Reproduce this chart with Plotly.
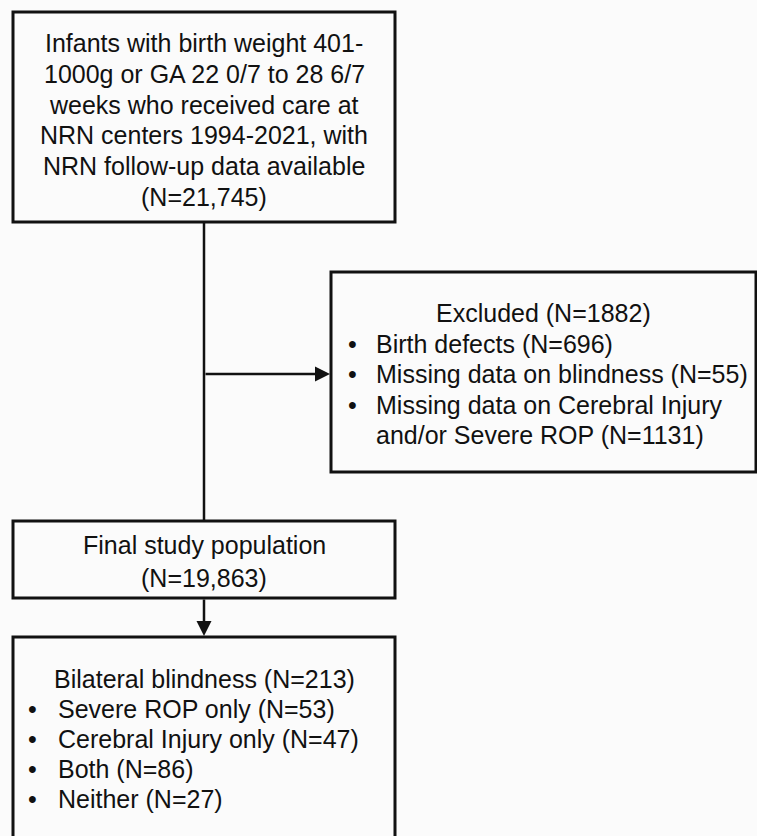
import plotly.graph_objects as go

W, H = 757, 836
FONT = "Liberation Sans, Arial, sans-serif"
COLOR = "#111111"
FS = 25

# Box texts
box1_lines = ["Infants with birth weight 401-", "1000g or GA 22 0/7 to 28 6/7",
              "weeks who received care at", "NRN centers 1994-2021, with",
              "NRN follow-up data available", "(N=21,745)"]
box2_title = "Excluded (N=1882)"
box2_bullets = ["Birth defects (N=696)", "Missing data on blindness (N=55)",
                "Missing data on Cerebral Injury", "and/or Severe ROP (N=1131)"]
box2_bullet_marks = [True, True, True, False]
box3_lines = ["Final study population", "(N=19,863)"]
box4_title = "Bilateral blindness (N=213)"
box4_bullets = ["Severe ROP only (N=53)", "Cerebral Injury only (N=47)",
                "Both (N=86)", "Neither (N=27)"]

# geometry (pixels, y downward)
b1 = dict(x0=13, y0=12, x1=395, y1=222)
b2 = dict(x0=331, y0=272, x1=756, y1=472)
b3 = dict(x0=13, y0=521, x1=395, y1=598)
b4 = dict(x0=13, y0=637, x1=395, y1=850)
cx = 204

fig = go.Figure()
fig.add_trace(go.Scatter(x=[0, W], y=[0, H], mode="markers",
                         marker=dict(opacity=0), hoverinfo="skip", showlegend=False))

for b in (b1, b2, b3, b4):
    fig.add_shape(type="rect", xref="x", yref="y", **b,
                  line=dict(color=COLOR, width=3), fillcolor="rgba(0,0,0,0)")

# connector line
fig.add_shape(type="line", xref="x", yref="y", x0=cx, y0=b1["y1"], x1=cx, y1=b3["y0"],
              line=dict(color=COLOR, width=2.5))

def arrow(x0, y0, x1, y1):
    fig.add_annotation(x=x1, y=y1, ax=x0, ay=y0, xref="x", yref="y", axref="x", ayref="y",
                       showarrow=True, arrowhead=2, arrowsize=1.2, arrowwidth=2.5,
                       arrowcolor=COLOR, text="")

arrow(cx, 374, b2["x0"] - 1, 374)
arrow(cx, b3["y1"], cx, b4["y0"] - 1)

def txt(x, y, s, anchor="center"):
    fig.add_annotation(x=x, y=y, xref="x", yref="y", text=s, showarrow=False,
                       xanchor=anchor, yanchor="middle",
                       font=dict(family=FONT, size=FS, color=COLOR))

for i, s in enumerate(box1_lines):
    txt(cx, 43 + i * 30.8, s)

txt((b2["x0"] + b2["x1"]) / 2, 313, box2_title)
for i, s in enumerate(box2_bullets):
    y = 344 + i * 30.4
    if box2_bullet_marks[i]:
        txt(346, y, "•", "left")
    txt(374, y, s, "left")

for i, s in enumerate(box3_lines):
    txt(cx, 545 + i * 33, s)

txt(cx, 679, box4_title)
for i, s in enumerate(box4_bullets):
    y = 709 + i * 30
    txt(26, y, "•", "left")
    txt(56, y, s, "left")

fig.update_layout(width=W, height=H, margin=dict(l=0, r=0, t=0, b=0),
                  paper_bgcolor="#fbfbfb", plot_bgcolor="#fbfbfb", showlegend=False,
                  xaxis=dict(range=[0, W], visible=False, fixedrange=True),
                  yaxis=dict(range=[H, 0], visible=False, fixedrange=True))

fig.write_html("out.html", config={"displayModeBar": False},
               post_script="document.body.style.margin='0px';")
